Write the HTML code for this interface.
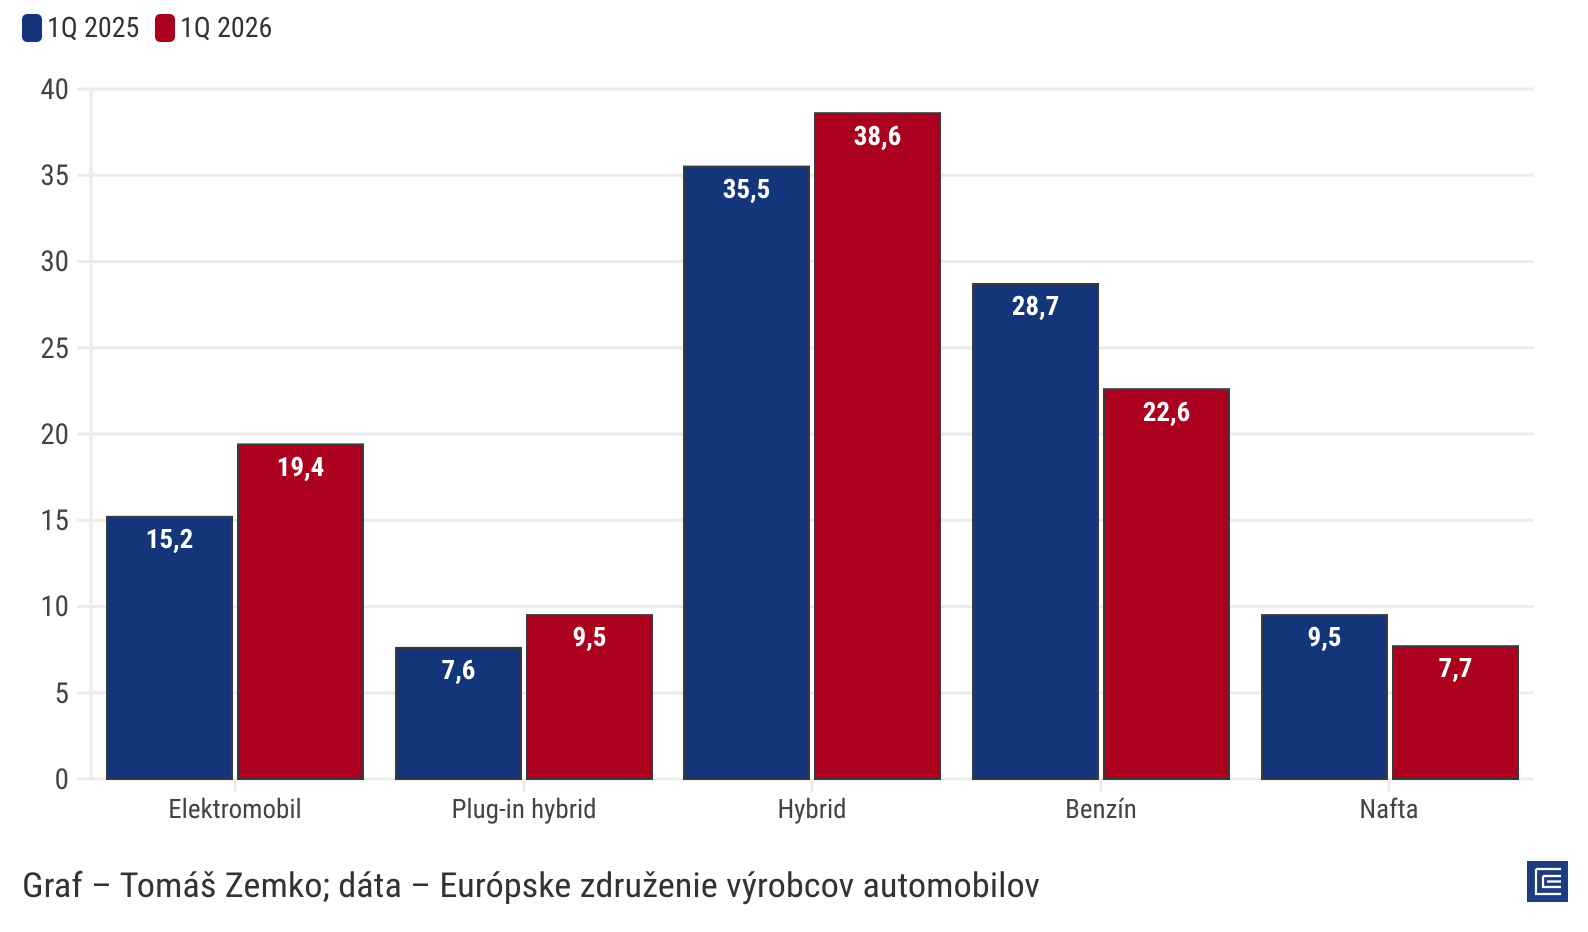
<!DOCTYPE html>
<html><head><meta charset="utf-8"><style>
html,body{margin:0;padding:0;background:#fff;}
svg{display:block;font-family:"Roboto Condensed","Liberation Sans Narrow","Liberation Sans",sans-serif;}
</style></head><body>
<svg width="1588" height="932" viewBox="0 0 1588 932" xmlns="http://www.w3.org/2000/svg">
<rect x="22" y="14" width="20" height="28" rx="5" fill="#13357a"/>
<text x="47" y="37" font-size="28" fill="#333">1Q 2025</text>
<rect x="155" y="14" width="20" height="28" rx="5" fill="#ac001f"/>
<text x="180" y="37" font-size="28" fill="#333">1Q 2026</text>
<g stroke="#ebebeb" stroke-width="3">
<line x1="77" x2="1534" y1="89" y2="89"/><line x1="77" x2="1534" y1="175.25" y2="175.25"/>
<line x1="77" x2="1534" y1="261.5" y2="261.5"/><line x1="77" x2="1534" y1="347.75" y2="347.75"/>
<line x1="77" x2="1534" y1="434" y2="434"/><line x1="77" x2="1534" y1="520.25" y2="520.25"/>
<line x1="77" x2="1534" y1="606.5" y2="606.5"/><line x1="77" x2="1534" y1="692.75" y2="692.75"/>
<line x1="77" x2="1534" y1="779" y2="779"/>
<line x1="91" x2="91" y1="89" y2="779"/>
<line x1="235" x2="235" y1="779" y2="792"/><line x1="524" x2="524" y1="779" y2="792"/>
<line x1="812" x2="812" y1="779" y2="792"/><line x1="1101" x2="1101" y1="779" y2="792"/>
<line x1="1389" x2="1389" y1="779" y2="792"/>
</g>
<g font-size="29" fill="#444" text-anchor="end">
<text x="69" y="99">40</text><text x="69" y="185">35</text><text x="69" y="271">30</text>
<text x="69" y="358">25</text><text x="69" y="444">20</text><text x="69" y="530">15</text>
<text x="69" y="616">10</text><text x="69" y="703">5</text><text x="69" y="789">0</text>
</g>
<g stroke="#3a3a3a" stroke-width="2">
<rect x="107" y="516.8" width="125" height="262.2" fill="#13357a"/>
<rect x="238" y="444.4" width="125" height="334.6" fill="#ac001f"/>
<rect x="396" y="647.9" width="125" height="131.1" fill="#13357a"/>
<rect x="527" y="615.1" width="125" height="163.9" fill="#ac001f"/>
<rect x="684" y="166.6" width="125" height="612.4" fill="#13357a"/>
<rect x="815" y="113.2" width="125" height="665.8" fill="#ac001f"/>
<rect x="973" y="284" width="125" height="495" fill="#13357a"/>
<rect x="1104" y="389.2" width="125" height="389.8" fill="#ac001f"/>
<rect x="1262" y="615.1" width="125" height="163.9" fill="#13357a"/>
<rect x="1393" y="646.2" width="125" height="132.8" fill="#ac001f"/>
</g>
<g font-size="27" font-weight="bold" fill="#fff" text-anchor="middle">
<text x="169.5" y="548">15,2</text><text x="300.5" y="476">19,4</text>
<text x="458.5" y="679">7,6</text><text x="589.5" y="646">9,5</text>
<text x="746.5" y="198">35,5</text><text x="877.5" y="145">38,6</text>
<text x="1035.5" y="315">28,7</text><text x="1166.5" y="421">22,6</text>
<text x="1324.5" y="646">9,5</text><text x="1455.5" y="677">7,7</text>
</g>
<g font-size="27" fill="#444" text-anchor="middle">
<text x="235" y="818">Elektromobil</text><text x="524" y="818">Plug-in hybrid</text>
<text x="812" y="818">Hybrid</text><text x="1101" y="818">Benzín</text><text x="1389" y="818">Nafta</text>
</g>
<text x="22" y="897" font-size="34" fill="#333" textLength="1018" lengthAdjust="spacingAndGlyphs">Graf – Tomáš Zemko; dáta – Európske združenie výrobcov automobilov</text>
<rect x="1527" y="861" width="41" height="41" fill="#1e3d80"/>
<path d="M1536 869 H1561 M1536 869 V894 H1561 M1543 876 H1561 M1543 876 V887 H1561 M1547 881.5 H1561" stroke="#fff" stroke-width="2.2" fill="none"/>
</svg>
</body></html>
